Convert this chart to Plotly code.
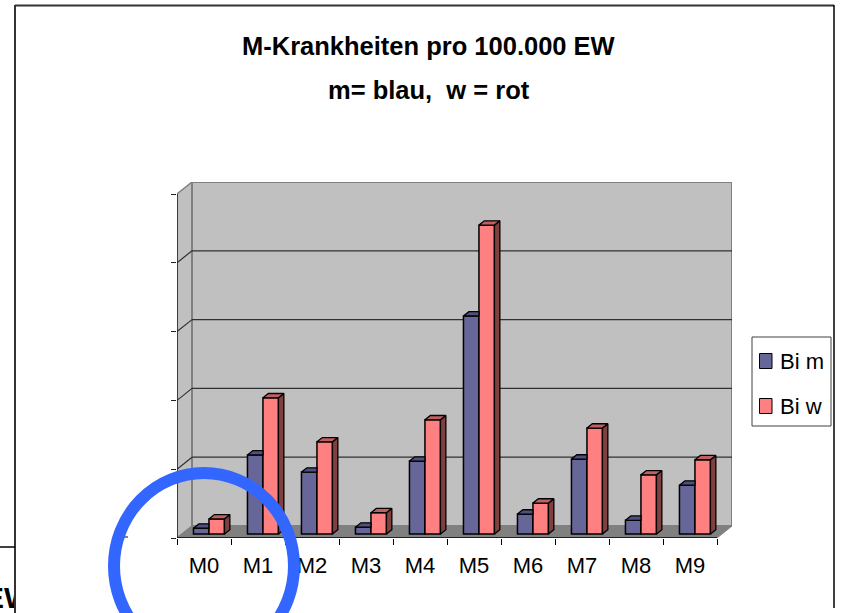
import plotly.graph_objects as go

# ---------------- data ----------------
categories = ["M0", "M1", "M2", "M3", "M4", "M5", "M6", "M7", "M8", "M9"]
bi_m = [1.7, 23.0, 18.0, 2.0, 21.2, 63.4, 5.8, 21.8, 4.0, 14.2]
bi_w = [4.4, 39.6, 26.8, 6.2, 33.2, 89.8, 9.0, 30.8, 17.2, 21.6]
series_names = ["Bi m", "Bi w"]
title_lines = ["M-Krankheiten pro 100.000 EW", "m= blau,&nbsp; w = rot"]
y_ticks = [0, 20, 40, 60, 80, 100]
fragment_text = ["E", "W"]

# ---------------- geometry / style ----------------
W, H = 843, 613
PX_L, PX_R, PX_T, PX_B = 177, 732, 182, 538
Y_MAX = y_ticks[-1]
n = len(categories)
DX = 15 / 54.0                     # depth offset (x units)
DY = 12 * Y_MAX / (PX_B - 194)     # depth offset (y units)
F = 0.33                           # bar front position in depth
D = 0.36                           # bar depth fraction
BW = 0.287                         # single bar width

BLUE, BLUE_TOP = "#666699", "#4f4f80"
RED, RED_TOP, RED_SIDE = "#ff8080", "#c06060", "#804040"
WALL, FLOOR = "#c0c0c0", "#808080"
FONT = "Liberation Sans, Arial, sans-serif"


def pxx(x):
    return x / W


def pyy(y):
    return 1 - y / H


centers = [i + 0.5 + F * DX for i in range(n)]
base = F * DY
ddx, ddy = D * DX, D * DY

fig = go.Figure()

# front faces
fig.add_trace(go.Bar(x=[c - BW / 2 for c in centers], y=bi_m, base=[base] * n, width=BW,
                     marker=dict(color=BLUE, line=dict(color="black", width=1.5)),
                     name=series_names[0], hoverinfo="skip"))
fig.add_trace(go.Bar(x=[c + BW / 2 for c in centers], y=bi_w, base=[base] * n, width=BW,
                     marker=dict(color=RED, line=dict(color="black", width=1.5)),
                     name=series_names[1], hoverinfo="skip"))

# top faces of blue bars (visible part, red bar in front of the rest)
bx, by = [], []
for c, v in zip(centers, bi_m):
    t = base + v
    x0, x1 = c - BW, c
    bx += [x0, x1, x1, x0 + ddx, x0, None]
    by += [t, t, t + ddy, t + ddy, t, None]
fig.add_trace(go.Scatter(x=bx, y=by, mode="lines", fill="toself", fillcolor=BLUE_TOP,
                         line=dict(color="black", width=1.3), hoverinfo="skip", showlegend=False))

# top & side faces of red bars
tx, ty, sx, sy = [], [], [], []
for c, v in zip(centers, bi_w):
    t = base + v
    x0, x1 = c, c + BW
    tx += [x0, x1, x1 + ddx, x0 + ddx, x0, None]
    ty += [t, t, t + ddy, t + ddy, t, None]
    sx += [x1, x1 + ddx, x1 + ddx, x1, x1, None]
    sy += [base, base + ddy, t + ddy, t, base, None]
fig.add_trace(go.Scatter(x=sx, y=sy, mode="lines", fill="toself", fillcolor=RED_SIDE,
                         line=dict(color="black", width=1.3), hoverinfo="skip", showlegend=False))
fig.add_trace(go.Scatter(x=tx, y=ty, mode="lines", fill="toself", fillcolor=RED_TOP,
                         line=dict(color="black", width=1.3), hoverinfo="skip", showlegend=False))

# fragment of a neighbouring object (bottom-left, clipped)
fig.add_trace(go.Scatter(x=[4], y=[13], mode="text", text=[fragment_text[0]], textposition="middle left",
                         textfont=dict(size=30, color="black", family=FONT, weight="bold"),
                         xaxis="x2", yaxis="y2", cliponaxis=True, hoverinfo="skip", showlegend=False))
fig.add_trace(go.Scatter(x=[4], y=[13], mode="text", text=[fragment_text[1]], textposition="middle right",
                         textfont=dict(size=30, color="black", family=FONT, weight="bold"),
                         xaxis="x2", yaxis="y2", cliponaxis=True, hoverinfo="skip", showlegend=False))

shapes = []
# walls and floor
shapes.append(dict(type="path", xref="x", yref="y", layer="below",
                   path=f"M 0,0 L 0,{Y_MAX} L {DX},{Y_MAX + DY} L {DX},{DY} Z",
                   fillcolor=WALL, line=dict(color="#808080", width=1.5)))
shapes.append(dict(type="rect", xref="x", yref="y", layer="below",
                   x0=DX, x1=n + DX, y0=DY, y1=Y_MAX + DY,
                   fillcolor=WALL, line=dict(color="#808080", width=2)))
shapes.append(dict(type="path", xref="x", yref="y", layer="below",
                   path=f"M 0,0 L {n},0 L {n + DX},{DY} L {DX},{DY} Z",
                   fillcolor=FLOOR, line=dict(color="#808080", width=1)))
# gridlines on the back wall and the side wall
for k in y_ticks[1:-1]:
    shapes.append(dict(type="line", xref="x", yref="y", layer="below",
                       x0=DX, x1=n + DX, y0=k + DY, y1=k + DY, line=dict(color="#303030", width=1.2)))
    shapes.append(dict(type="line", xref="x", yref="y", layer="below",
                       x0=0, x1=DX, y0=k, y1=k + DY, line=dict(color="#303030", width=1.2)))
# axis lines
shapes.append(dict(type="line", xref="x", yref="y", layer="below",
                   x0=0, x1=0, y0=0, y1=Y_MAX, line=dict(color="#202020", width=1.5)))
shapes.append(dict(type="line", xref="x", yref="y", layer="above",
                   x0=0, x1=n, y0=0, y1=0, line=dict(color="black", width=1.5)))

# frame lines
def pline(x0, y0, x1, y1, color="#333333", width=2):
    return dict(type="line", xref="paper", yref="paper", layer="above",
                x0=pxx(x0), y0=pyy(y0), x1=pxx(x1), y1=pyy(y1), line=dict(color=color, width=width))


shapes.append(pline(15, 5.5, 834, 5.5))
shapes.append(pline(15, 5, 15, 613))
shapes.append(pline(834, 5, 834, 608, color="black", width=1.5))
shapes.append(pline(0, 547, 15, 547, color="black", width=1.5))
shapes.append(pline(123, 537, 128, 537, color="#333333", width=1.2))

# legend box
shapes.append(dict(type="rect", xref="paper", yref="paper", layer="above",
                   x0=pxx(752), x1=pxx(831), y0=pyy(337), y1=pyy(426),
                   fillcolor="white", line=dict(color="#404040", width=1)))
for yc, col in ((361, BLUE), (406, RED)):
    shapes.append(dict(type="rect", xref="paper", yref="paper", layer="above",
                       x0=pxx(759.5), x1=pxx(772), y0=pyy(yc - 7.5), y1=pyy(yc + 7.5),
                       fillcolor=col, line=dict(color="black", width=1)))

# blue ring annotation
shapes.append(dict(type="circle", xref="paper", yref="paper", layer="above",
                   x0=pxx(114), x1=pxx(294), y0=pyy(659), y1=pyy(473),
                   fillcolor="rgba(0,0,0,0)", line=dict(color="#3366ff", width=12)))

annotations = []
for txt, yc in zip(title_lines, (46, 90)):
    annotations.append(dict(text=f"<b>{txt}</b>", xref="paper", yref="paper", x=pxx(429), y=pyy(yc),
                            xanchor="center", yanchor="middle", showarrow=False,
                            font=dict(size=25.5, color="black", family=FONT)))
for name, yc in zip(series_names, (361, 406)):
    annotations.append(dict(text=name, xref="paper", yref="paper", x=pxx(778), y=pyy(yc),
                            xanchor="left", yanchor="middle", showarrow=False,
                            font=dict(size=22, color="black", family=FONT)))

fig.update_layout(
    width=W, height=H, autosize=False,
    margin=dict(l=0, r=0, t=0, b=0),
    paper_bgcolor="white", plot_bgcolor="white",
    barmode="overlay", showlegend=False,
    font=dict(family=FONT, color="black"),
    shapes=shapes, annotations=annotations,
    xaxis=dict(domain=[PX_L / W, PX_R / W], range=[0, n + DX], fixedrange=True,
               tickmode="array", tickvals=[i + 0.5 for i in range(n)], ticktext=categories,
               ticks="", showgrid=False, zeroline=False, showline=False,
               ticklabelstandoff=12,
               tickfont=dict(size=22, color="black", family=FONT),
               minor=dict(tickmode="array", tickvals=list(range(n + 1)), ticks="outside",
                          ticklen=6, tickcolor="black", tickwidth=1.2, showgrid=False)),
    yaxis=dict(domain=[1 - PX_B / H, 1 - PX_T / H], range=[0, Y_MAX + DY], fixedrange=True,
               tickmode="array", tickvals=y_ticks, ticks="outside", ticklen=5,
               tickcolor="#202020", tickwidth=1.2, showticklabels=False,
               showgrid=False, zeroline=False, showline=False),
    xaxis2=dict(domain=[0, 14 / W], range=[0, 14], visible=False, anchor="y2", fixedrange=True),
    yaxis2=dict(domain=[0, 66 / H], range=[0, 66], visible=False, anchor="x2", fixedrange=True),
)

fig.write_html("out.html", config={"displayModeBar": False},
               post_script="document.body.style.margin='0';document.body.style.overflow='hidden';")
